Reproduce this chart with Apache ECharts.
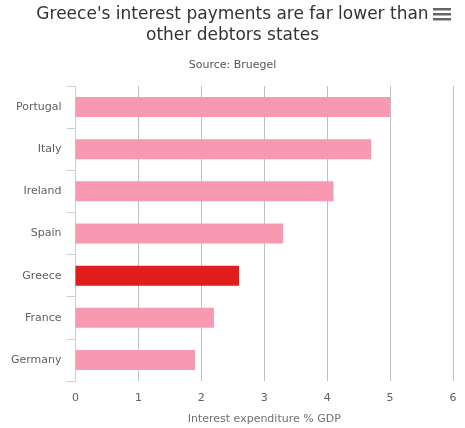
<!DOCTYPE html>
<html>
<head>
<meta charset="utf-8">
<script src="https://cdn.jsdelivr.net/npm/echarts@6/dist/echarts.min.js"></script>
<style>
  html, body { margin: 0; padding: 0; background: #fff; }
  #chart { width: 465px; height: 428px; }
</style>
</head>
<body>
<div id="chart"></div>
<script>
const countries = ['Portugal', 'Italy', 'Ireland', 'Spain', 'Greece', 'France', 'Germany'];
const interest = [5.0, 4.7, 4.1, 3.3, 2.6, 2.2, 1.9];
const xTicks = [0, 1, 2, 3, 4, 5, 6];
const highlight = 'Greece';

const font = 'DejaVu Sans, Verdana, sans-serif';
const chart = echarts.init(document.getElementById('chart'));

chart.setOption({
  animation: false,
  textStyle: { fontFamily: font },
  title: [{
    text: "Greece's interest payments are far lower than\nother debtors states",
    left: 'center',
    top: -1,
    textStyle: { fontSize: 17, fontWeight: 'normal', color: '#333333', lineHeight: 21, fontFamily: font },
  }, {
    text: 'Source: Bruegel',
    left: 'center',
    top: 55,
    textStyle: { fontSize: 11, fontWeight: 'normal', color: '#555555', fontFamily: font },
  }],
  // export menu icon
  graphic: [0, 5, 10].map(dy => ({
    type: 'rect',
    shape: { x: 433, y: 8 + dy, width: 18, height: 2.5 },
    style: { fill: '#666666' },
  })),
  grid: {
    left: 75.5,
    right: 12,
    top: 86,
    bottom: 47,
    containLabel: false,
    outerBoundsMode: 'none',
  },
  xAxis: {
    type: 'value',
    min: xTicks[0],
    max: xTicks[xTicks.length - 1],
    interval: 1,
    name: 'Interest expenditure % GDP',
    nameLocation: 'middle',
    nameGap: 33,
    nameTextStyle: { color: '#707070', fontSize: 11, fontFamily: font },
    axisLine: { show: false },
    axisTick: { show: false },
    axisLabel: { color: '#606060', fontSize: 11, margin: 12 },
    splitLine: { lineStyle: { color: '#C0C0C0', width: 1 } },
  },
  yAxis: {
    type: 'category',
    inverse: true,
    data: countries,
    axisLine: { show: true, lineStyle: { color: '#C0D0E0', width: 1 } },
    axisTick: { show: true, length: 9, lineStyle: { color: '#C0D0E0' } },
    axisLabel: { color: '#606060', fontSize: 11, margin: 14 },
    splitLine: { show: false },
  },
  series: [{
    type: 'bar',
    barWidth: 20,
    data: interest.map((v, i) => ({
      value: v,
      itemStyle: { color: countries[i] === highlight ? '#E01E1E' : '#F799B0' },
    })),
  }],
});
</script>
</body>
</html>
